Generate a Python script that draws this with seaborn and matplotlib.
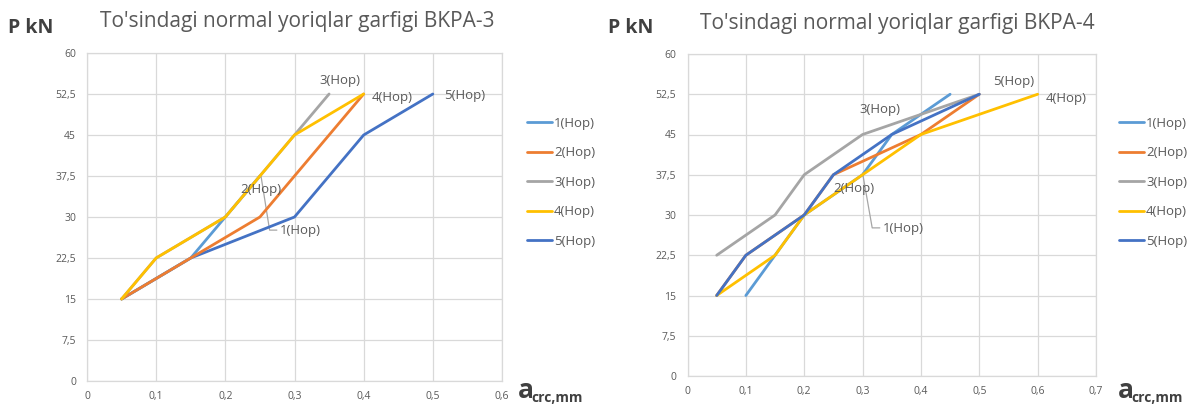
import pandas as pd
import seaborn as sns
import matplotlib.pyplot as plt
from matplotlib.lines import Line2D

# ------------------------------
# Data (a_crc in mm, P in kN)
# ------------------------------
series_names = ["1(Hop)", "2(Hop)", "3(Hop)", "4(Hop)", "5(Hop)"]
series_colors = ["#5B9BD5", "#ED7D31", "#A5A5A5", "#FFC000", "#4472C4"]

# BKPA-3
b3_crack = {
    "1(Hop)": [0.05, 0.15, 0.2, 0.25],
    "2(Hop)": [0.05, 0.15, 0.25, 0.3, 0.4],
    "3(Hop)": [0.05, 0.1, 0.2, 0.25, 0.3, 0.35],
    "4(Hop)": [0.05, 0.1, 0.2, 0.25, 0.3, 0.4],
    "5(Hop)": [0.05, 0.15, 0.3, 0.4, 0.5],
}
b3_load = {
    "1(Hop)": [15, 22.5, 30, 37.5],
    "2(Hop)": [15, 22.5, 30, 37.5, 52.5],
    "3(Hop)": [15, 22.5, 30, 37.5, 45, 52.5],
    "4(Hop)": [15, 22.5, 30, 37.5, 45, 52.5],
    "5(Hop)": [15, 22.5, 30, 45, 52.5],
}

# BKPA-4
b4_crack = {
    "1(Hop)": [0.1, 0.15, 0.2, 0.3, 0.35, 0.45],
    "2(Hop)": [0.05, 0.1, 0.2, 0.25, 0.4, 0.5],
    "3(Hop)": [0.05, 0.15, 0.2, 0.3, 0.5],
    "4(Hop)": [0.05, 0.15, 0.2, 0.3, 0.4, 0.6],
    "5(Hop)": [0.05, 0.1, 0.2, 0.25, 0.35, 0.5],
}
b4_load = {
    "1(Hop)": [15, 22.5, 30, 37.5, 45, 52.5],
    "2(Hop)": [15, 22.5, 30, 37.5, 45, 52.5],
    "3(Hop)": [22.5, 30, 37.5, 45, 52.5],
    "4(Hop)": [15, 22.5, 30, 37.5, 45, 52.5],
    "5(Hop)": [15, 22.5, 30, 37.5, 45, 52.5],
}

y_ticks = [0, 7.5, 15, 22.5, 30, 37.5, 45, 52.5, 60]
b3_x_ticks = [0, 0.1, 0.2, 0.3, 0.4, 0.5, 0.6]
b4_x_ticks = [0, 0.1, 0.2, 0.3, 0.4, 0.5, 0.6, 0.7]

# data label positions (x, y) in data units
b3_labels = {"1(Hop)": (0.279, 27.5), "2(Hop)": (0.221, 35.0), "3(Hop)": (0.336, 54.9),
             "4(Hop)": (0.411, 51.9), "5(Hop)": (0.517, 52.2)}
b4_labels = {"1(Hop)": (0.334, 27.5), "2(Hop)": (0.250, 35.0), "3(Hop)": (0.295, 49.6),
             "4(Hop)": (0.613, 51.8), "5(Hop)": (0.524, 54.8)}
b3_leader = ([0.2517, 0.264, 0.2745], [37.4, 27.6, 27.6])
b4_leader = ([0.300, 0.3165, 0.3295], [37.8, 27.6, 27.6])

palette = dict(zip(series_names, series_colors))
TXT = "#595959"


def to_frame(crack, load):
    rows = []
    for name in series_names:
        for a, p in zip(crack[name], load[name]):
            rows.append({"a": a, "P": p, "series": name})
    return pd.DataFrame(rows)


def comma(v):
    s = f"{v:g}"
    return s.replace(".", ",")


def draw_chart(ax, df, order, x_ticks, labels, leader, title):
    sns.lineplot(data=df, x="a", y="P", hue="series", hue_order=order, palette=palette,
                 sort=False, estimator=None, linewidth=2, legend=False, ax=ax)
    ax.set_xlim(x_ticks[0], x_ticks[-1])
    ax.set_ylim(0, 60)
    ax.set_xticks(x_ticks)
    ax.set_yticks(y_ticks)
    ax.set_xticklabels([comma(v) for v in x_ticks])
    ax.set_yticklabels([comma(v) for v in y_ticks])
    ax.grid(True, color="#d9d9d9", linewidth=0.9)
    ax.set_axisbelow(True)
    for sp in ax.spines.values():
        sp.set_color("#d9d9d9")
        sp.set_linewidth(0.9)
    ax.tick_params(axis="both", length=0, labelsize=7.5, labelcolor=TXT)
    ax.tick_params(axis="y", pad=8)
    ax.tick_params(axis="x", pad=7)
    ax.set_xlabel("")
    ax.set_ylabel("")
    # leader line + data labels
    ax.plot(leader[0], leader[1], color="#a6a6a6", linewidth=0.9, zorder=1)
    for name, (lx, ly) in labels.items():
        ax.text(lx, ly, name, fontsize=9.5, color=TXT, va="center", ha="left")
    ax.text(0.031, 1 + 31 / 325, title, transform=ax.transAxes, fontsize=15,
            color=TXT, ha="left", va="center")


sns.set_theme(style="white")
plt.rcParams["font.family"] = ["Open Sans", "DejaVu Sans"]

fig = plt.figure(figsize=(11.95, 4.05), dpi=100)
W, H = 1195, 405
ax1 = fig.add_axes([87 / W, 1 - 381 / H, (502 - 87) / W, (381 - 53) / H])
ax2 = fig.add_axes([687.5 / W, 1 - 376 / H, (1096 - 687.5) / W, (376 - 54) / H])

df3 = to_frame(b3_crack, b3_load)
df4 = to_frame(b4_crack, b4_load)

draw_chart(ax1, df3, ["5(Hop)", "1(Hop)", "2(Hop)", "3(Hop)", "4(Hop)"], b3_x_ticks,
           b3_labels, b3_leader, "To'sindagi normal yoriqlar garfigi BKPA-3")
draw_chart(ax2, df4, series_names, b4_x_ticks,
           b4_labels, b4_leader, "To'sindagi normal yoriqlar garfigi BKPA-4")

# legends
handles = [Line2D([0], [0], color=c, linewidth=2) for c in series_colors]
for x0 in (527, 1119):
    fig.legend(handles, series_names, loc="upper left", bbox_to_anchor=(x0 / W, 1 - 117 / H),
               frameon=False, fontsize=9.5, labelcolor=TXT, handlelength=1.9,
               handletextpad=0.15, labelspacing=1.25, borderaxespad=0, borderpad=0)

# axis captions
for x0 in (0, 600):
    fig.text((x0 + 8) / W, 1 - 28 / H, "P kN", fontsize=14, fontweight="bold",
             color="#404040", va="center", ha="left")
for x0, sub in ((518, 531), (1118, 1131)):
    fig.text(x0 / W, 1 - 398 / H, "a", fontsize=19, fontweight="bold",
             color="#404040", va="baseline", ha="left")
    fig.text(sub / W, 1 - 402 / H, "crc,mm", fontsize=10, fontweight="bold",
             color="#404040", va="baseline", ha="left")

fig.savefig("out.png", dpi=100, facecolor="white")
